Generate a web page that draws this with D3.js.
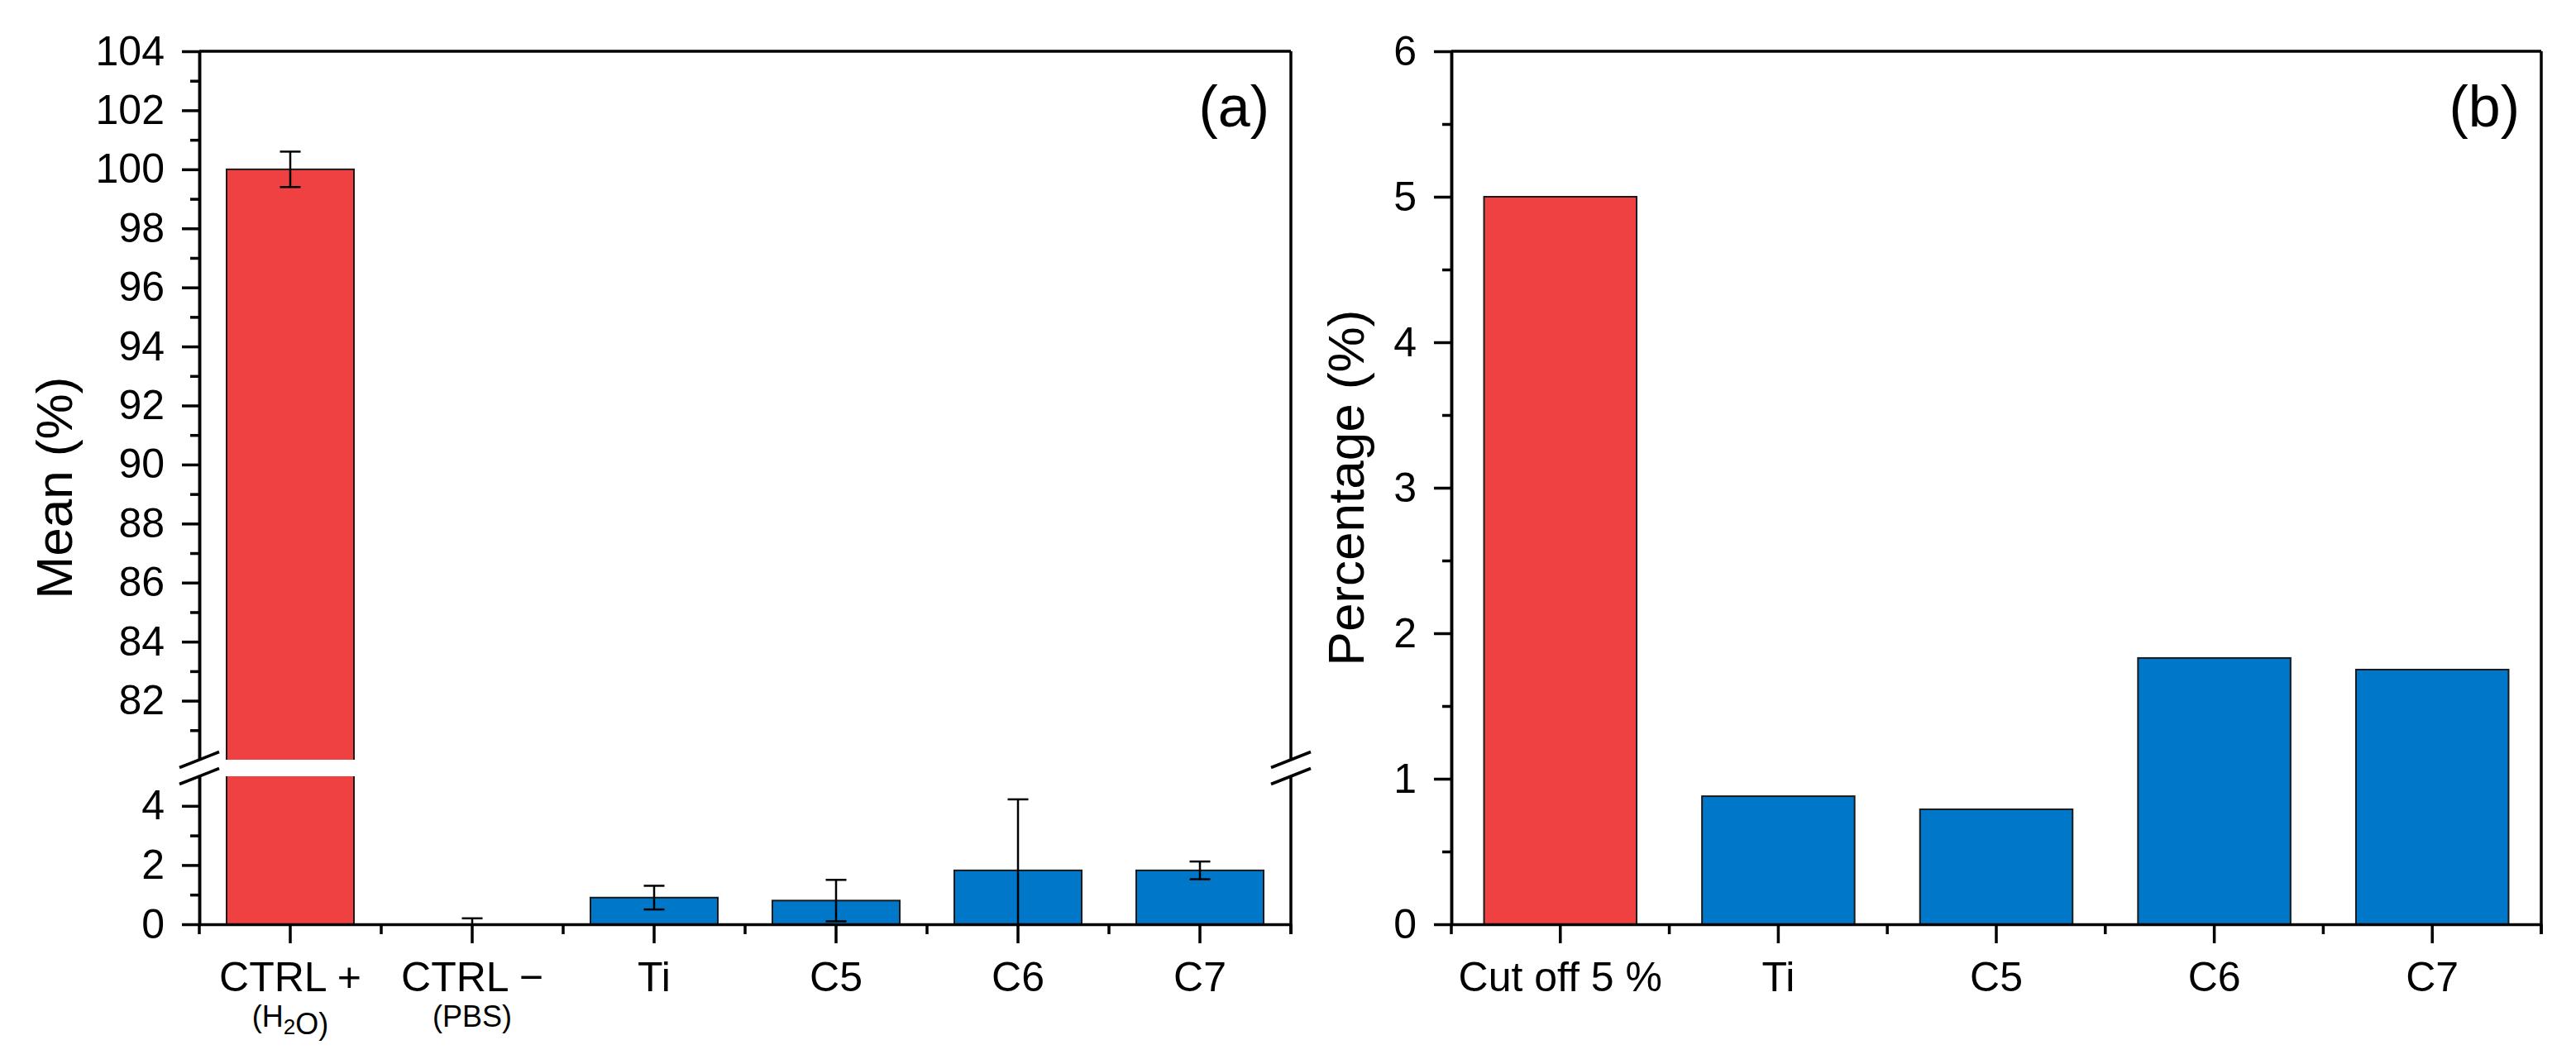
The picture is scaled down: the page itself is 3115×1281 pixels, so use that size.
<!DOCTYPE html>
<html>
<head>
<meta charset="utf-8">
<script src="https://cdnjs.cloudflare.com/ajax/libs/d3/7.8.5/d3.min.js"></script>
<style>
    body { margin: 0; background: #fff; }
    svg text { font-family: "Liberation Sans", Arial, sans-serif; fill: #000; }
    .axis path, .axis line { stroke: #000; stroke-width: 3.5; }
    .frame { stroke: #000; stroke-width: 3.5; fill: none; }
    .bar { stroke: #1a1a1a; stroke-width: 2; }
    .err { stroke: #000; stroke-width: 2.5; }
</style>
</head>
<body>
<div id="chart"></div>
<script>
// panel (a) - mean (%), broken y axis
const groupsA = ["CTRL +", "CTRL \u2212", "Ti", "C5", "C6", "C7"];
const subLabelsA = ["(H2O)", "(PBS)", "", "", "", ""];
const meanA = [100, 0, 0.9, 0.8, 1.82, 1.82];
const errA = [0.6, 0.2, 0.4, 0.7, 2.4, 0.3];
const kindA = ["ctrl", "ctrl", "sample", "sample", "sample", "sample"];
const majorLowA = [0, 2, 4];
const minorLowA = [1, 3];
const majorHighA = [82, 84, 86, 88, 90, 92, 94, 96, 98, 100, 102, 104];
const minorHighA = [81, 83, 85, 87, 89, 91, 93, 95, 97, 99, 101, 103];

// panel (b) - percentage (%)
const groupsB = ["Cut off 5 %", "Ti", "C5", "C6", "C7"];
const pctB = [5, 0.88, 0.79, 1.83, 1.75];
const kindB = ["ctrl", "sample", "sample", "sample", "sample"];
const majorB = [0, 1, 2, 3, 4, 5, 6];
const minorB = [0.5, 1.5, 2.5, 3.5, 4.5, 5.5];

const colors = {ctrl: "#ef4141", sample: "#0077c8"};

const W = 3115, H = 1281;
const plotTop = 62, plotBottom = 1118;

const svg = d3.select("#chart").append("svg")
    .attr("width", W)
    .attr("height", H);
const defs = svg.append("defs");

function addClip(id, x0, x1, y0, y1) {
    defs.append("clipPath").attr("id", id)
        .append("rect")
        .attr("x", x0).attr("y", y0)
        .attr("width", x1 - x0).attr("height", y1 - y0);
}

function drawBars(data, x, y, clipId) {
    let g = svg.append("g").attr("clip-path", `url(#${clipId})`);
    let y0 = y(0);
    g.selectAll("rect.bar")
        .data(data)
        .enter().append("rect")
        .attr("class", "bar")
        .attr("x", d => x(d.name))
        .attr("width", x.bandwidth())
        .attr("y", d => y(d.value))
        .attr("height", d => y0 - y(d.value))
        .attr("fill", d => colors[d.kind]);

    let withErr = data.filter(d => d.err);
    let cap = 12.5;
    let eb = g.selectAll("g.eb")
        .data(withErr)
        .enter().append("g");
    eb.append("line").attr("class", "err")
        .attr("x1", d => x(d.name) + x.bandwidth() / 2)
        .attr("x2", d => x(d.name) + x.bandwidth() / 2)
        .attr("y1", d => y(d.value - d.err))
        .attr("y2", d => y(d.value + d.err));
    eb.append("line").attr("class", "err")
        .attr("x1", d => x(d.name) + x.bandwidth() / 2 - cap)
        .attr("x2", d => x(d.name) + x.bandwidth() / 2 + cap)
        .attr("y1", d => y(d.value + d.err))
        .attr("y2", d => y(d.value + d.err));
    eb.append("line").attr("class", "err")
        .attr("x1", d => x(d.name) + x.bandwidth() / 2 - cap)
        .attr("x2", d => x(d.name) + x.bandwidth() / 2 + cap)
        .attr("y1", d => y(d.value - d.err))
        .attr("y2", d => y(d.value - d.err));
}

function yAxis(scale, major, minor, xPos) {
    svg.append("g").attr("class", "axis")
        .attr("transform", `translate(${xPos},0)`)
        .call(d3.axisLeft(scale).tickValues(minor).tickSize(11).tickSizeOuter(0).tickFormat(""));
    svg.append("g").attr("class", "axis")
        .attr("transform", `translate(${xPos},0)`)
        .call(d3.axisLeft(scale).tickValues(major).tickSize(21).tickSizeOuter(0).tickPadding(21)
            .tickFormat(d3.format("d")))
        .selectAll("text").style("font-size", "50px");
}

function xAxis(x, subLabels) {
    let ax = svg.append("g").attr("class", "axis")
        .attr("transform", `translate(0,${plotBottom})`)
        .call(d3.axisBottom(x).tickSize(23).tickSizeOuter(0).tickPadding(22));
    ax.selectAll("text").style("font-size", "50px");

    // minor ticks on the band edges
    let edges = x.domain().map(d => x(d) - x.step() * x.paddingInner() / 2);
    edges.push(x.range()[1]);
    ax.selectAll("line.minor")
        .data(edges)
        .enter().append("line")
        .attr("class", "minor")
        .attr("x1", d => d).attr("x2", d => d)
        .attr("y1", 0).attr("y2", 12);

    // second line under the tick label, digits as subscript
    if (subLabels) {
        ax.selectAll(".tick").each(function(d, i) {
            let s = subLabels[i];
            if (!s) return;
            let t = d3.select(this).append("text")
                .attr("y", 124)
                .attr("text-anchor", "middle")
                .style("font-size", "36px");
            s.split(/(\d+)/).forEach(part => {
                if (!part) return;
                if (/^\d+$/.test(part)) {
                    t.append("tspan").attr("dy", 9).style("font-size", "26px").text(part);
                    t.append("tspan").attr("dy", -9).text("");
                } else {
                    t.append("tspan").text(part);
                }
            });
        });
    }
}

function slash(x, y) {
    svg.append("line").attr("class", "frame")
        .attr("stroke-width", 3)
        .attr("x1", x - 24).attr("y1", y + 9.5)
        .attr("x2", x + 24).attr("y2", y - 9.5);
}

// ---------- panel (a)
const pa = {left: 241, right: 1561, breakHigh: 919, breakLow: 939};

const dataA = groupsA.map((g, i) => ({name: g, value: meanA[i], err: errA[i], kind: kindA[i]}));

const xA = d3.scaleBand()
    .domain(groupsA)
    .range([pa.left, pa.right])
    .paddingInner(0.3)
    .paddingOuter(0.15);
const yLowA = d3.scaleLinear().domain([0, 5]).range([plotBottom, pa.breakLow]);
const yHighA = d3.scaleLinear().domain([80, 104]).range([pa.breakHigh, plotTop]);

addClip("clipLowA", pa.left, pa.right, pa.breakLow, plotBottom);
addClip("clipHighA", pa.left, pa.right, plotTop, pa.breakHigh);

drawBars(dataA, xA, yLowA, "clipLowA");
drawBars(dataA, xA, yHighA, "clipHighA");

yAxis(yLowA, majorLowA, minorLowA, pa.left);
yAxis(yHighA, majorHighA, minorHighA, pa.left);

// frame: top and right side (with break)
svg.append("line").attr("class", "frame")
    .attr("x1", pa.left).attr("x2", pa.right)
    .attr("y1", plotTop).attr("y2", plotTop);
svg.append("line").attr("class", "frame")
    .attr("x1", pa.right).attr("x2", pa.right)
    .attr("y1", plotTop).attr("y2", pa.breakHigh);
svg.append("line").attr("class", "frame")
    .attr("x1", pa.right).attr("x2", pa.right)
    .attr("y1", pa.breakLow).attr("y2", plotBottom + 12);

[pa.left, pa.right].forEach(x => {
    slash(x, pa.breakHigh);
    slash(x, pa.breakLow);
});

xAxis(xA, subLabelsA);

svg.append("text")
    .attr("transform", `translate(87,${(plotTop + plotBottom) / 2}) rotate(-90)`)
    .attr("text-anchor", "middle")
    .style("font-size", "62px")
    .text("Mean (%)");

svg.append("text")
    .attr("x", pa.right - 26).attr("y", 153)
    .attr("text-anchor", "end")
    .style("font-size", "70px")
    .text("(a)");

// ---------- panel (b)
const pb = {left: 1755, right: 3073};

const dataB = groupsB.map((g, i) => ({name: g, value: pctB[i], err: 0, kind: kindB[i]}));

const xB = d3.scaleBand()
    .domain(groupsB)
    .range([pb.left, pb.right])
    .paddingInner(0.3)
    .paddingOuter(0.15);
const yB = d3.scaleLinear().domain([0, 6]).range([plotBottom, plotTop]);

addClip("clipB", pb.left, pb.right, plotTop, plotBottom);
drawBars(dataB, xB, yB, "clipB");

yAxis(yB, majorB, minorB, pb.left);

svg.append("line").attr("class", "frame")
    .attr("x1", pb.left).attr("x2", pb.right)
    .attr("y1", plotTop).attr("y2", plotTop);
svg.append("line").attr("class", "frame")
    .attr("x1", pb.right).attr("x2", pb.right)
    .attr("y1", plotTop).attr("y2", plotBottom + 12);

xAxis(xB, null);

svg.append("text")
    .attr("transform", `translate(1649,${(plotTop + plotBottom) / 2}) rotate(-90)`)
    .attr("text-anchor", "middle")
    .style("font-size", "62px")
    .text("Percentage (%)");

svg.append("text")
    .attr("x", pb.right - 26).attr("y", 153)
    .attr("text-anchor", "end")
    .style("font-size", "70px")
    .text("(b)");
</script>
</body>
</html>
